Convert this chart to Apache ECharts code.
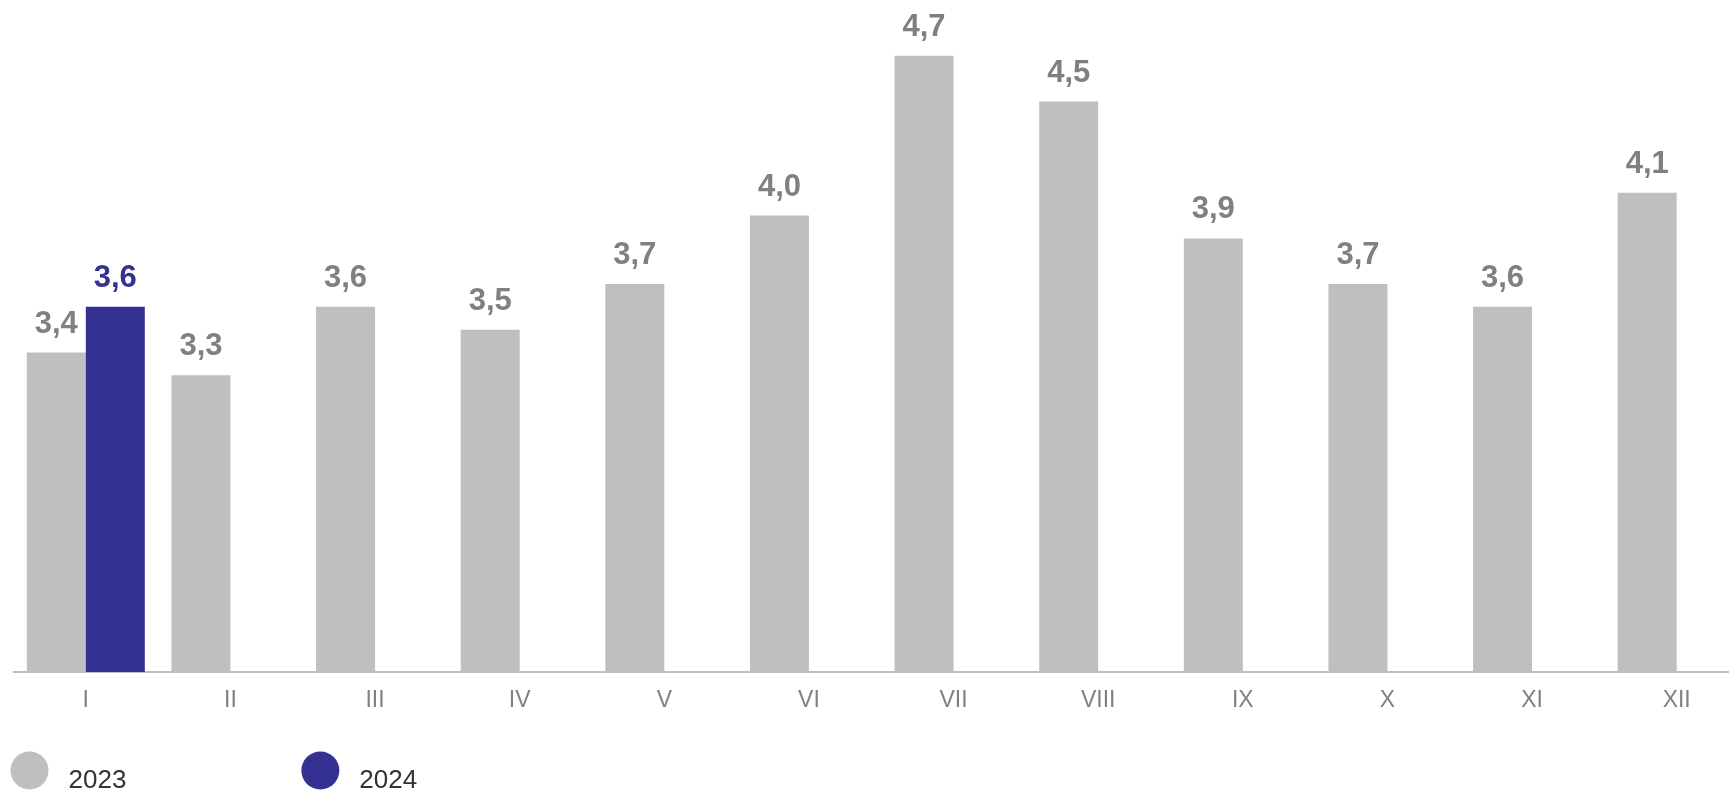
<!DOCTYPE html>
<html>
<head>
<meta charset="utf-8">
<script src="https://cdn.jsdelivr.net/npm/echarts@6/dist/echarts.min.js"></script>
<style>
html,body{margin:0;padding:0;background:#fff;overflow:hidden;width:1729px;height:793px;}
#chart{width:1750px;height:793px;}
</style>
</head>
<body>
<div id="chart"></div>
<script>
const months = ['I','II','III','IV','V','VI','VII','VIII','IX','X','XI','XII'];
const values2023 = [3.4,3.3,3.6,3.5,3.7,4.0,4.7,4.5,3.9,3.7,3.6,4.1];
const values2024 = [3.6,null,null,null,null,null,null,null,null,null,null,null];
const seriesNames = ['2023','2024'];

const FONT = 'Liberation Sans, Arial, sans-serif';
const GRAY = '#bfbfbf';
const BLUE = '#353193';
const fmt = p => p.value == null ? '' : Number(p.value).toFixed(1).replace('.', ',');

const chart = echarts.init(document.getElementById('chart'));
chart.setOption({
  animation: false,
  backgroundColor: '#fff',
  grid: { left: 13.5, right: 1, top: 33, bottom: 121, containLabel: false },
  legend: {
    left: 10.5, top: 751.5,
    padding: 0,
    icon: 'circle',
    itemWidth: 38, itemHeight: 38,
    itemGap: 175,
    formatter: name => '{t|' + name + '}',
    textStyle: {
      fontFamily: FONT, fontSize: 26, color: '#333',
      rich: { t: { fontFamily: FONT, fontSize: 26, color: '#333', padding: [20, 0, 0, 15] } }
    },
    data: seriesNames
  },
  xAxis: {
    type: 'category',
    data: months,
    axisLine: { lineStyle: { color: '#c0c0c0', width: 2 } },
    axisTick: { show: false },
    axisLabel: { fontFamily: FONT, fontSize: 23, color: '#808080', margin: 17 }
  },
  yAxis: {
    type: 'value', min: 2, max: 4.8,
    show: false, splitLine: { show: false }
  },
  series: [
    {
      name: seriesNames[0], type: 'bar', data: values2023,
      barWidth: 59, barGap: '0%',
      itemStyle: { color: GRAY },
      label: { show: true, position: 'top', distance: 13, formatter: fmt,
        fontFamily: FONT, fontSize: 31, fontWeight: 'bold', color: '#808080' }
    },
    {
      name: seriesNames[1], type: 'bar', data: values2024,
      barWidth: 59, barGap: '0%',
      itemStyle: { color: BLUE },
      label: { show: true, position: 'top', distance: 13, formatter: fmt,
        fontFamily: FONT, fontSize: 31, fontWeight: 'bold', color: BLUE }
    }
  ]
});
</script>
</body>
</html>
